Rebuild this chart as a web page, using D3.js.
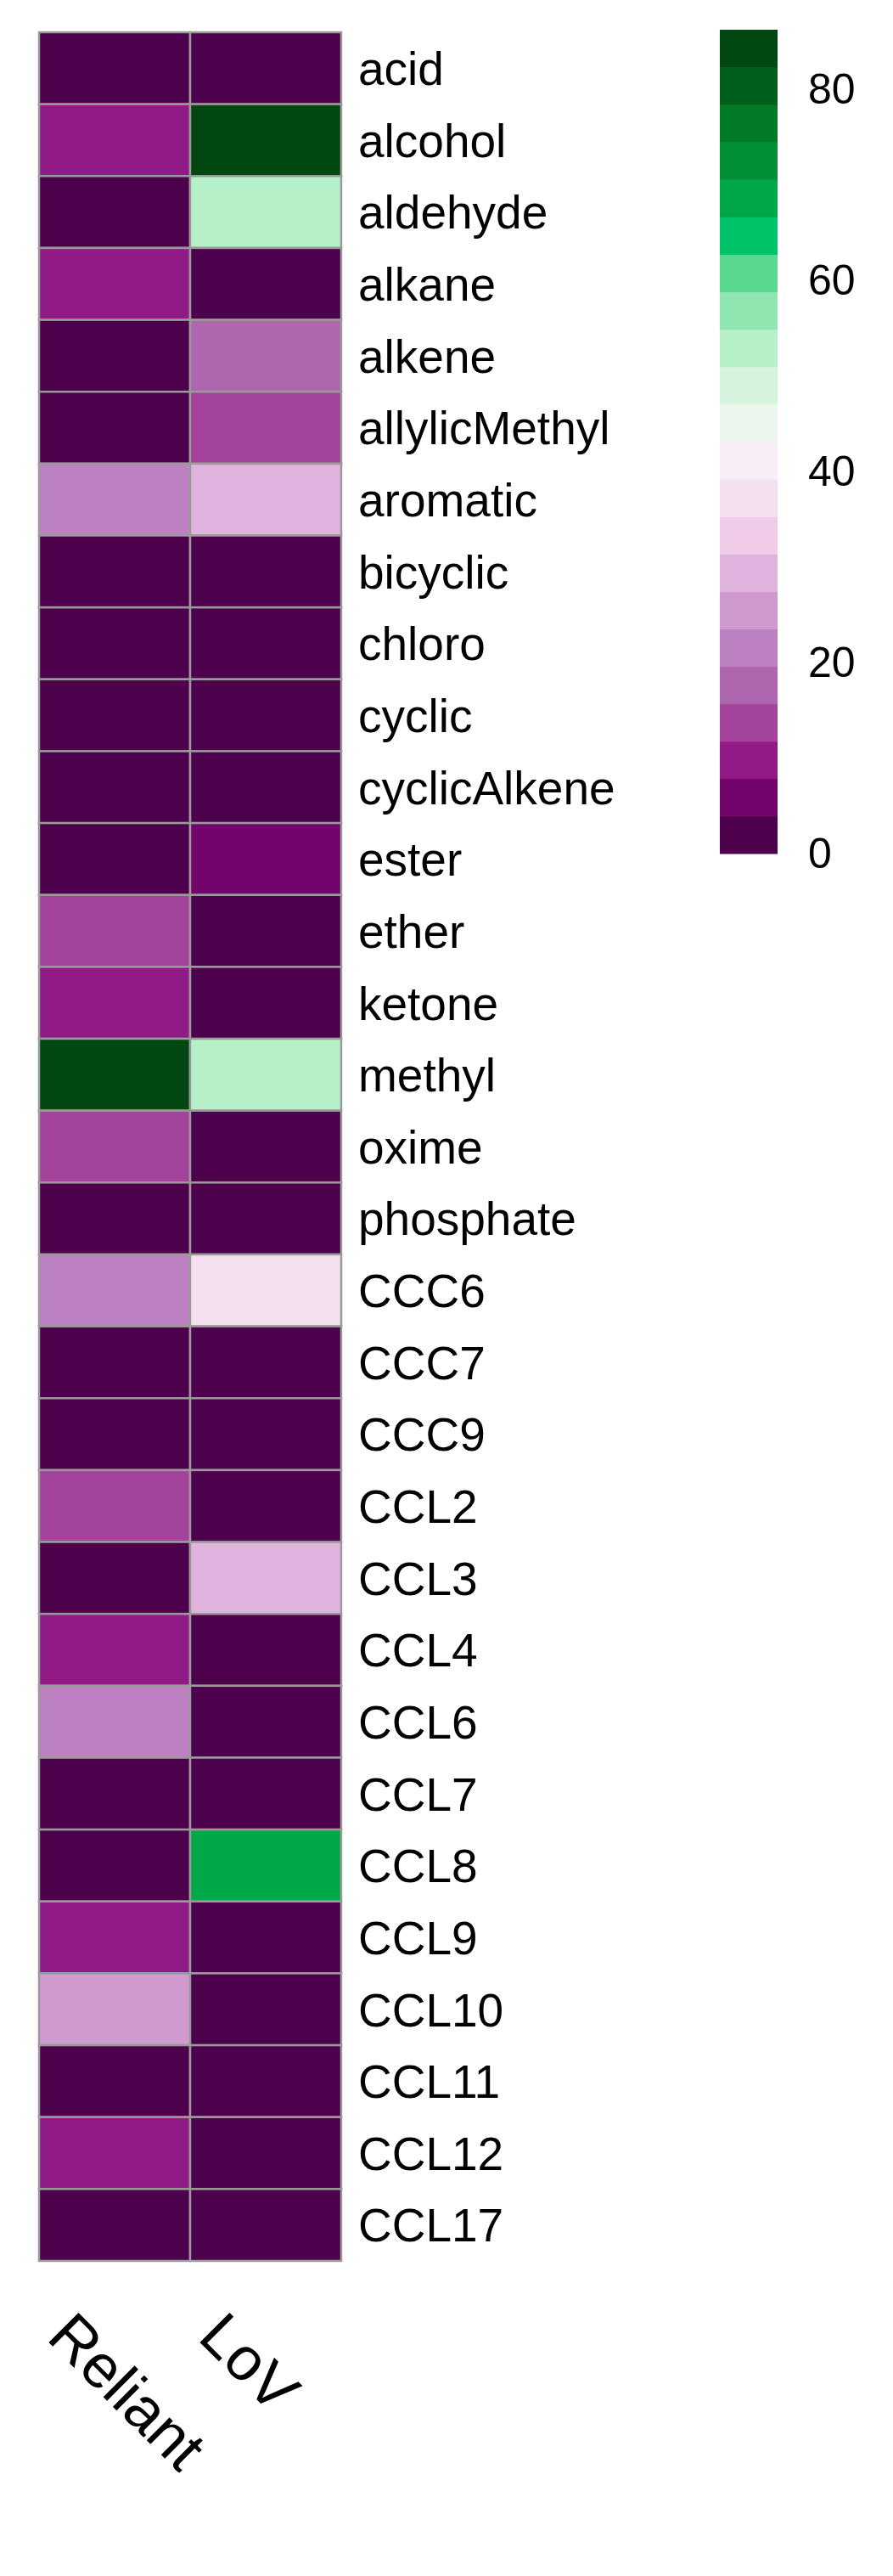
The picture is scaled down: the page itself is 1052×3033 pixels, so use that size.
<!DOCTYPE html>
<html><head><meta charset="utf-8">
<script src="https://cdn.jsdelivr.net/npm/d3@7"></script>
<style>body{margin:0;background:#fff}text{font-family:Arial,"Liberation Sans",sans-serif}</style>
</head><body><svg id="c" width="1052" height="3033"></svg>
<script>
const rows=["acid","alcohol","aldehyde","alkane","alkene","allylicMethyl","aromatic","bicyclic","chloro","cyclic","cyclicAlkene","ester","ether","ketone","methyl","oxime","phosphate","CCC6","CCC7","CCC9","CCL2","CCL3","CCL4","CCL6","CCL7","CCL8","CCL9","CCL10","CCL11","CCL12","CCL17"];
const cols=["Reliant","LoV"];
const reliant=[1,10,1,10,1,1,22,1,1,1,1,1,14,10,85,14,1,22,1,1,14,1,10,22,1,1,10,26,1,10,1];
const lov=[1,85,53,1,18,14,31,1,1,1,1,6,1,1,52,1,1,37,1,1,1,30,1,1,1,69,1,1,1,1,1];
const palette=["#4d004b","#72046c","#921a87","#a3439b","#ae66af","#bd80c0","#cf9bce","#dfb3dc","#efcbe8","#f5e0f1","#f8eef5","#ecf6ee","#d6f3de","#b6f0c9","#90e6b0","#5ad88f","#00c46a","#00a84a","#008f35","#007a25","#005f1a","#004712"];
const legendTicks=[0,20,40,60,80];
const vmax=86.3;

const svg=d3.select("#c");
const gx0=46,gx1=402,gy0=38,gy1=2662;
const x=d3.scaleBand().domain(cols).range([gx0,gx1]);
const y=d3.scaleBand().domain(rows).range([gy0,gy1]);
const color=d3.scaleQuantize().domain([0,vmax]).range(palette);
const data=[];
rows.forEach((r,i)=>{data.push({r,c:"Reliant",v:reliant[i]});data.push({r,c:"LoV",v:lov[i]});});
svg.append("g").selectAll("rect").data(data).join("rect")
 .attr("x",d=>x(d.c)).attr("y",d=>y(d.r)).attr("width",x.bandwidth()).attr("height",y.bandwidth())
 .attr("fill",d=>color(d.v)).attr("stroke","#9a9a9a").attr("stroke-width",2.5);
svg.append("g").selectAll("text").data(rows).join("text")
 .attr("x",gx1+20).attr("y",d=>y(d)+y.bandwidth()/2).attr("dy","0.36em")
 .attr("font-size",55).text(d=>d);
svg.append("g").selectAll("text").data(cols).join("text")
 .attr("transform",d=>`translate(${x(d)+x.bandwidth()/2-45},${gy1+55}) rotate(45)`)
 .attr("font-size",72).attr("dominant-baseline","hanging").text(d=>d);
// legend
const lx=848,lw=68,ly0=35,ly1=1005;
const ly=d3.scaleLinear().domain([0,vmax]).range([ly1,ly0]);
const bins=palette.map(c=>{const e=color.invertExtent(c);return {c,a:e[0],b:e[1]};});
svg.append("g").selectAll("rect").data(bins).join("rect")
 .attr("x",lx).attr("width",lw).attr("y",d=>ly(d.b)).attr("height",d=>ly(d.a)-ly(d.b)+0.5).attr("fill",d=>d.c);
const ax=d3.axisRight(ly).tickValues(legendTicks).tickSize(0).tickPadding(36);
const ag=svg.append("g").attr("transform",`translate(${lx+lw},0)`).call(ax);
ag.select(".domain").remove();
ag.selectAll("text").attr("font-size",50).attr("fill","#000").attr("font-family","Arial,'Liberation Sans',sans-serif");
</script></body></html>
